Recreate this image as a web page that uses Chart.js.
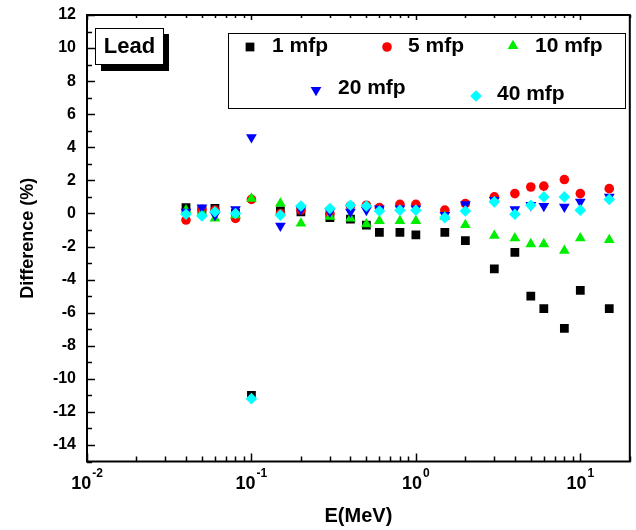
<!DOCTYPE html>
<html>
<head>
<meta charset="utf-8">
<script src="https://cdn.jsdelivr.net/npm/chart.js@4.4.0/dist/chart.umd.min.js"></script>
<style>
  html, body { margin: 0; padding: 0; background: #fff; }
  #wrap { width: 636px; height: 530px; }
</style>
</head>
<body>
<div id="wrap"><canvas id="c" width="636" height="530"></canvas></div>
<script>
// energies (MeV)
const energies = [0.04, 0.05, 0.06, 0.08, 0.1, 0.15, 0.2, 0.3, 0.4, 0.5, 0.6, 0.8, 1, 1.5, 2, 3, 4, 5, 6, 8, 10, 15];

// difference (%) per penetration depth
const mfp1  = [0.35, 0.2, 0.3, 0.0, -11.0, 0.15, 0.1, -0.25, -0.35, -0.7, -1.15, -1.15, -1.3, -1.15, -1.65, -3.35, -2.35, -5.0, -5.75, -6.95, -4.65, -5.75];
const mfp5  = [-0.4, 0.25, 0.2, -0.3, 0.85, 0.0, 0.2, 0.0, 0.45, 0.5, 0.35, 0.55, 0.55, 0.2, 0.6, 1.0, 1.2, 1.6, 1.65, 2.05, 1.2, 1.5];
const mfp10 = [0.2, 0.05, -0.3, -0.1, 0.9, 0.6, -0.6, -0.2, -0.3, -0.65, -0.45, -0.45, -0.45, -0.2, -0.7, -1.35, -1.5, -1.85, -1.85, -2.25, -1.5, -1.6];
const mfp20 = [0.1, 0.35, -0.1, 0.25, 4.6, -0.75, 0.25, 0.1, 0.1, 0.2, 0.3, 0.3, 0.3, -0.1, 0.55, 0.8, 0.25, 0.5, 0.45, 0.4, 0.7, 1.0];
const mfp40 = [-0.05, -0.15, 0.1, 0.0, -11.2, -0.1, 0.45, 0.3, 0.5, 0.45, 0.15, 0.2, 0.2, -0.25, 0.15, 0.7, -0.05, 0.5, 1.0, 1.0, 0.2, 0.85];

const seriesNames = ['1 mfp', '5 mfp', '10 mfp', '20 mfp', '40 mfp'];
const yTickLabels = [-14, -12, -10, -8, -6, -4, -2, 0, 2, 4, 6, 8, 10, 12];
const xTickDecades = [-2, -1, 0, 1];

const FONT = '"Liberation Sans", Arial, sans-serif';

const styles = [
  { color: '#000000', pointStyle: 'rect', radius: 6.2, rotation: 0 },
  { color: '#ff0000', pointStyle: 'circle', radius: 4.8, rotation: 0 },
  { color: '#00ee00', pointStyle: 'triangle', radius: 6.2, rotation: 0 },
  { color: '#0000ff', pointStyle: 'triangle', radius: 6.2, rotation: 180 },
  { color: '#00ffff', pointStyle: 'rectRot', radius: 5.8, rotation: 0 }
];

const toPoints = vals => vals.map((v, i) => ({ x: energies[i], y: v }));
const allSeries = [mfp1, mfp5, mfp10, mfp20, mfp40];

const datasets = allSeries.map((vals, i) => ({
  label: seriesNames[i],
  data: toPoints(vals),
  showLine: false,
  backgroundColor: styles[i].color,
  borderColor: styles[i].color,
  borderWidth: 0,
  pointStyle: styles[i].pointStyle,
  pointRadius: styles[i].radius,
  pointHoverRadius: styles[i].radius,
  pointRotation: styles[i].rotation,
  order: 5 - i   // later series drawn on top
}));

// frame, inward ticks, x labels with superscripts, legend box, "Lead" tag
const decor = {
  id: 'decor',
  afterDraw(chart) {
    const { ctx, chartArea: a, scales: { x, y } } = chart;
    ctx.save();
    ctx.strokeStyle = '#000';
    ctx.lineWidth = 1.5;

    // y ticks (left side only)
    ctx.beginPath();
    for (let v = -15; v <= 12; v++) {
      const py = Math.round(y.getPixelForValue(v)) + 0.5;
      const len = v % 2 === 0 ? 8 : 5;
      ctx.moveTo(a.left, py);
      ctx.lineTo(a.left + len, py);
    }
    // x ticks bottom and top
    xTickDecades.forEach(e => {
      for (let m = 1; m <= 9; m++) {
        const v = m * Math.pow(10, e);
        if (v > 20) break;
        const px = Math.round(x.getPixelForValue(v)) + 0.5;
        const len = m === 1 ? 8 : 5;
        ctx.moveTo(px, a.bottom);
        ctx.lineTo(px, a.bottom - len);
        ctx.moveTo(px, a.top);
        ctx.lineTo(px, a.top + (m === 1 ? 5 : 3));
      }
    });
    ctx.stroke();

    // frame
    ctx.lineWidth = 2;
    ctx.strokeRect(a.left, a.top, a.right - a.left, a.bottom - a.top);

    // x tick labels 10^n
    ctx.fillStyle = '#000';
    ctx.textBaseline = 'alphabetic';
    ctx.textAlign = 'left';
    xTickDecades.forEach(e => {
      const px = x.getPixelForValue(Math.pow(10, e));
      const big = 'bold 18px ' + FONT;
      const small = 'bold 12px ' + FONT;
      ctx.font = big;
      const wb = ctx.measureText('10').width;
      ctx.font = small;
      const sup = String(e);
      const ws = ctx.measureText(sup).width;
      const x0 = px - (wb + ws + 1) / 2;
      ctx.font = big;
      ctx.fillText('10', x0, 489);
      ctx.font = small;
      ctx.fillText(sup, x0 + wb + 1, 477);
    });

    // "Lead" tag with shadow
    ctx.fillStyle = '#000';
    ctx.fillRect(101, 34, 68, 37);
    ctx.fillStyle = '#fff';
    ctx.fillRect(95, 28, 68, 36);
    ctx.lineWidth = 1;
    ctx.strokeRect(95.5, 28.5, 68, 36);
    ctx.fillStyle = '#000';
    ctx.font = 'bold 22px ' + FONT;
    ctx.textAlign = 'center';
    ctx.textBaseline = 'middle';
    ctx.fillText('Lead', 129.5, 47);

    // legend box
    ctx.fillStyle = '#fff';
    ctx.fillRect(228, 33, 397, 75);
    ctx.strokeRect(228.5, 33.5, 397, 75);
    const items = [
      { mx: 250, my: 47, tx: 272, ty: 46 },
      { mx: 387, my: 47, tx: 408, ty: 46 },
      { mx: 513, my: 46, tx: 535, ty: 46 },
      { mx: 316, my: 90, tx: 338, ty: 88 },
      { mx: 476, my: 96, tx: 497, ty: 94 }
    ];
    ctx.font = 'bold 21px ' + FONT;
    ctx.textAlign = 'left';
    items.forEach((it, i) => {
      const s = styles[i];
      ctx.fillStyle = s.color;
      ctx.strokeStyle = s.color;
      Chart.helpers.drawPoint(ctx, {
        pointStyle: s.pointStyle, radius: s.radius, rotation: s.rotation, borderWidth: 0
      }, it.mx, it.my);
      ctx.fillStyle = '#000';
      ctx.fillText(seriesNames[i], it.tx, it.ty);
    });
    ctx.restore();
  }
};

new Chart(document.getElementById('c'), {
  type: 'scatter',
  data: { datasets },
  options: {
    responsive: false,
    animation: false,
    layout: { padding: { top: 15, right: 3, left: 0, bottom: 0 } },
    plugins: { legend: { display: false }, tooltip: { enabled: false } },
    scales: {
      x: {
        type: 'logarithmic',
        min: 0.01,
        max: 20,
        grid: { display: false, drawTicks: false },
        border: { display: false },
        ticks: { display: false },
        afterBuildTicks: s => { s.ticks = xTickDecades.map(e => ({ value: Math.pow(10, e) })); },
        afterFit: s => { s.height = 68.5; s.paddingLeft = 0; s.paddingRight = 0; },
        title: {
          display: true, text: 'E(MeV)', color: '#000',
          font: { family: FONT, size: 20, weight: 'bold' },
          padding: { top: 0, bottom: 2 }
        }
      },
      y: {
        min: -15,
        max: 12,
        grid: { display: false, drawTicks: false },
        border: { display: false },
        afterBuildTicks: s => { s.ticks = yTickLabels.map(v => ({ value: v })); },
        afterFit: s => { s.width = 87; s.paddingTop = 0; s.paddingBottom = 0; },
        ticks: {
          color: '#000', padding: 11,
          font: { family: FONT, size: 16, weight: 'bold' }
        },
        title: {
          display: true, text: 'Difference (%)', color: '#000',
          font: { family: FONT, size: 18, weight: 'bold' },
          padding: { top: 17, bottom: 0 }
        }
      }
    }
  },
  plugins: [decor]
});
</script>
</body>
</html>
